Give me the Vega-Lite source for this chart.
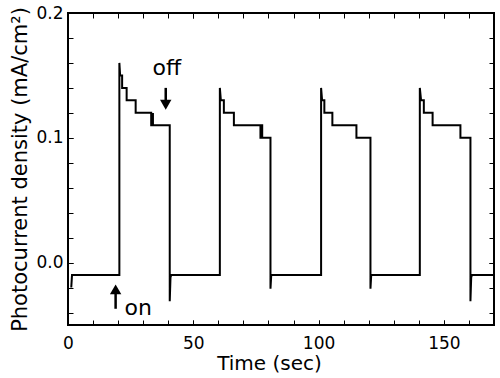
{
  "$schema": "https://vega.github.io/schema/vega-lite/v6.json",
  "width": 426,
  "height": 312,
  "autosize": "none",
  "padding": {"left": 68, "top": 13, "right": 6, "bottom": 53},
  "background": "white",
  "config": {
    "view": {"stroke": "black", "strokeWidth": 2},
    "font": "DejaVu Sans",
    "axis": {
      "grid": false,
      "domain": false,
      "ticks": true,
      "zindex": 2,
      "tickColor": "black",
      "tickOpacity": 1,
      "labelColor": "black",
      "labelFont": "DejaVu Sans",
      "titleColor": "black",
      "titleFont": "DejaVu Sans",
      "titleFontWeight": "normal"
    }
  },
  "layer": [
    {
      "data": {"name": "trace", "values": [
        {"i": 1, "t": 1.3, "j": -0.02},
        {"i": 2, "t": 1.6, "j": -0.01},
        {"i": 3, "t": 20.5, "j": -0.01},
        {"i": 4, "t": 20.5, "j": 0.16},
        {"i": 5, "t": 20.8, "j": 0.15},
        {"i": 6, "t": 21.6, "j": 0.15},
        {"i": 7, "t": 21.6, "j": 0.14},
        {"i": 8, "t": 23.4, "j": 0.14},
        {"i": 9, "t": 23.4, "j": 0.13},
        {"i": 10, "t": 27.0, "j": 0.13},
        {"i": 11, "t": 27.0, "j": 0.12},
        {"i": 12, "t": 33.2, "j": 0.12},
        {"i": 13, "t": 33.2, "j": 0.11},
        {"i": 14, "t": 33.5, "j": 0.11},
        {"i": 15, "t": 33.5, "j": 0.119},
        {"i": 16, "t": 33.9, "j": 0.119},
        {"i": 17, "t": 33.9, "j": 0.11},
        {"i": 18, "t": 40.6, "j": 0.11},
        {"i": 19, "t": 40.6, "j": -0.031},
        {"i": 20, "t": 40.9, "j": -0.012},
        {"i": 21, "t": 41.2, "j": -0.01},
        {"i": 22, "t": 60.6, "j": -0.01},
        {"i": 23, "t": 60.6, "j": 0.14},
        {"i": 24, "t": 61.0, "j": 0.13},
        {"i": 25, "t": 62.2, "j": 0.13},
        {"i": 26, "t": 62.2, "j": 0.12},
        {"i": 27, "t": 66.2, "j": 0.12},
        {"i": 28, "t": 66.2, "j": 0.11},
        {"i": 29, "t": 76.8, "j": 0.11},
        {"i": 30, "t": 76.8, "j": 0.10},
        {"i": 31, "t": 77.1, "j": 0.10},
        {"i": 32, "t": 77.1, "j": 0.11},
        {"i": 33, "t": 77.5, "j": 0.11},
        {"i": 34, "t": 77.5, "j": 0.10},
        {"i": 35, "t": 80.8, "j": 0.10},
        {"i": 36, "t": 80.8, "j": -0.021},
        {"i": 37, "t": 81.1, "j": -0.01},
        {"i": 38, "t": 101.0, "j": -0.01},
        {"i": 39, "t": 101.0, "j": 0.14},
        {"i": 40, "t": 101.4, "j": 0.13},
        {"i": 41, "t": 102.3, "j": 0.13},
        {"i": 42, "t": 102.3, "j": 0.12},
        {"i": 43, "t": 105.5, "j": 0.12},
        {"i": 44, "t": 105.5, "j": 0.11},
        {"i": 45, "t": 115.1, "j": 0.11},
        {"i": 46, "t": 115.1, "j": 0.10},
        {"i": 47, "t": 120.7, "j": 0.10},
        {"i": 48, "t": 120.7, "j": -0.021},
        {"i": 49, "t": 121.0, "j": -0.01},
        {"i": 50, "t": 140.4, "j": -0.01},
        {"i": 51, "t": 140.4, "j": 0.14},
        {"i": 52, "t": 140.9, "j": 0.13},
        {"i": 53, "t": 142.0, "j": 0.13},
        {"i": 54, "t": 142.0, "j": 0.12},
        {"i": 55, "t": 145.5, "j": 0.12},
        {"i": 56, "t": 145.5, "j": 0.11},
        {"i": 57, "t": 156.6, "j": 0.11},
        {"i": 58, "t": 156.6, "j": 0.10},
        {"i": 59, "t": 160.6, "j": 0.10},
        {"i": 60, "t": 160.6, "j": -0.031},
        {"i": 61, "t": 160.9, "j": -0.012},
        {"i": 62, "t": 161.2, "j": -0.01},
        {"i": 63, "t": 170.0, "j": -0.01}
      ]},
      "mark": {"type": "line", "color": "black", "strokeWidth": 2, "clip": true},
      "encoding": {
        "x": {
          "field": "t", "type": "quantitative",
          "scale": {"domain": [0, 170], "nice": false, "zero": false},
          "axis": {
            "orient": "bottom",
            "offset": -5,
            "tickCount": 4,
            "format": "d",
            "labelPadding": 10,
            "labelFontSize": 17,
            "labelFlush": false,
            "title": "Time (sec)",
            "titleFontSize": 20,
            "titleX": 201,
            "titleY": 33,
            "titleAnchor": "middle"
          }
        },
        "y": {
          "field": "j", "type": "quantitative",
          "scale": {"domain": [-0.05, 0.2], "nice": false, "zero": false},
          "axis": {
            "orient": "left",
            "offset": -5,
            "tickCount": 3,
            "format": ".1f",
            "labelPadding": 5,
            "labelFontSize": 17,
            "labelFlush": false,
            "title": "Photocurrent density (mA/cm²)",
            "titleFontSize": 21,
            "titleX": -43,
            "titleY": 156,
            "titleAnchor": "middle"
          }
        },
        "order": {"field": "i"}
      }
    },
    {
      "data": {"name": "trace"},
      "mark": {"type": "line", "opacity": 0},
      "encoding": {
        "x": {
          "field": "t", "type": "quantitative",
          "axis": {"orient": "top", "offset": -5, "tickCount": 4, "labels": false, "title": null}
        },
        "y": {
          "field": "j", "type": "quantitative",
          "axis": {"orient": "right", "offset": -5, "tickCount": 3, "labels": false, "title": null}
        },
        "order": {"field": "i"}
      }
    },
    {
      "data": {"values": [
        {"t": 39.0, "j": 0.14, "j2": 0.13},
        {"t": 19.0, "j": -0.037, "j2": -0.025}
      ]},
      "mark": {"type": "rule", "color": "black", "strokeWidth": 2.5},
      "encoding": {
        "x": {
          "field": "t", "type": "quantitative",
          "axis": {"orient": "bottom", "offset": -5, "tickCount": 17, "labels": false, "title": null}
        },
        "y": {
          "field": "j", "type": "quantitative",
          "axis": {"orient": "left", "offset": -5, "tickCount": 12, "labels": false, "title": null}
        },
        "y2": {"field": "j2"}
      }
    },
    {
      "data": {"values": [{"t": 39.0, "j": 0.1265}]},
      "mark": {"type": "point", "shape": "triangle-down", "filled": true, "color": "black", "opacity": 1, "size": 130},
      "encoding": {
        "x": {
          "field": "t", "type": "quantitative",
          "axis": {"orient": "top", "offset": -5, "tickCount": 17, "labels": false, "title": null}
        },
        "y": {
          "field": "j", "type": "quantitative",
          "axis": {"orient": "right", "offset": -5, "tickCount": 12, "labels": false, "title": null}
        }
      }
    },
    {
      "data": {"values": [{"t": 19.0, "j": -0.0215}]},
      "mark": {"type": "point", "shape": "triangle-up", "filled": true, "color": "black", "opacity": 1, "size": 130},
      "encoding": {
        "x": {"field": "t", "type": "quantitative", "axis": null},
        "y": {"field": "j", "type": "quantitative", "axis": null}
      }
    },
    {
      "data": {"values": [
        {"t": 39.4, "j": 0.150, "label": "off"},
        {"t": 28.0, "j": -0.042, "label": "on"}
      ]},
      "mark": {"type": "text", "color": "black", "fontSize": 22, "font": "DejaVu Sans", "align": "center", "baseline": "alphabetic"},
      "encoding": {
        "x": {"field": "t", "type": "quantitative", "axis": null},
        "y": {"field": "j", "type": "quantitative", "axis": null},
        "text": {"field": "label"}
      }
    }
  ],
  "resolve": {"axis": {"x": "independent", "y": "independent"}}
}
